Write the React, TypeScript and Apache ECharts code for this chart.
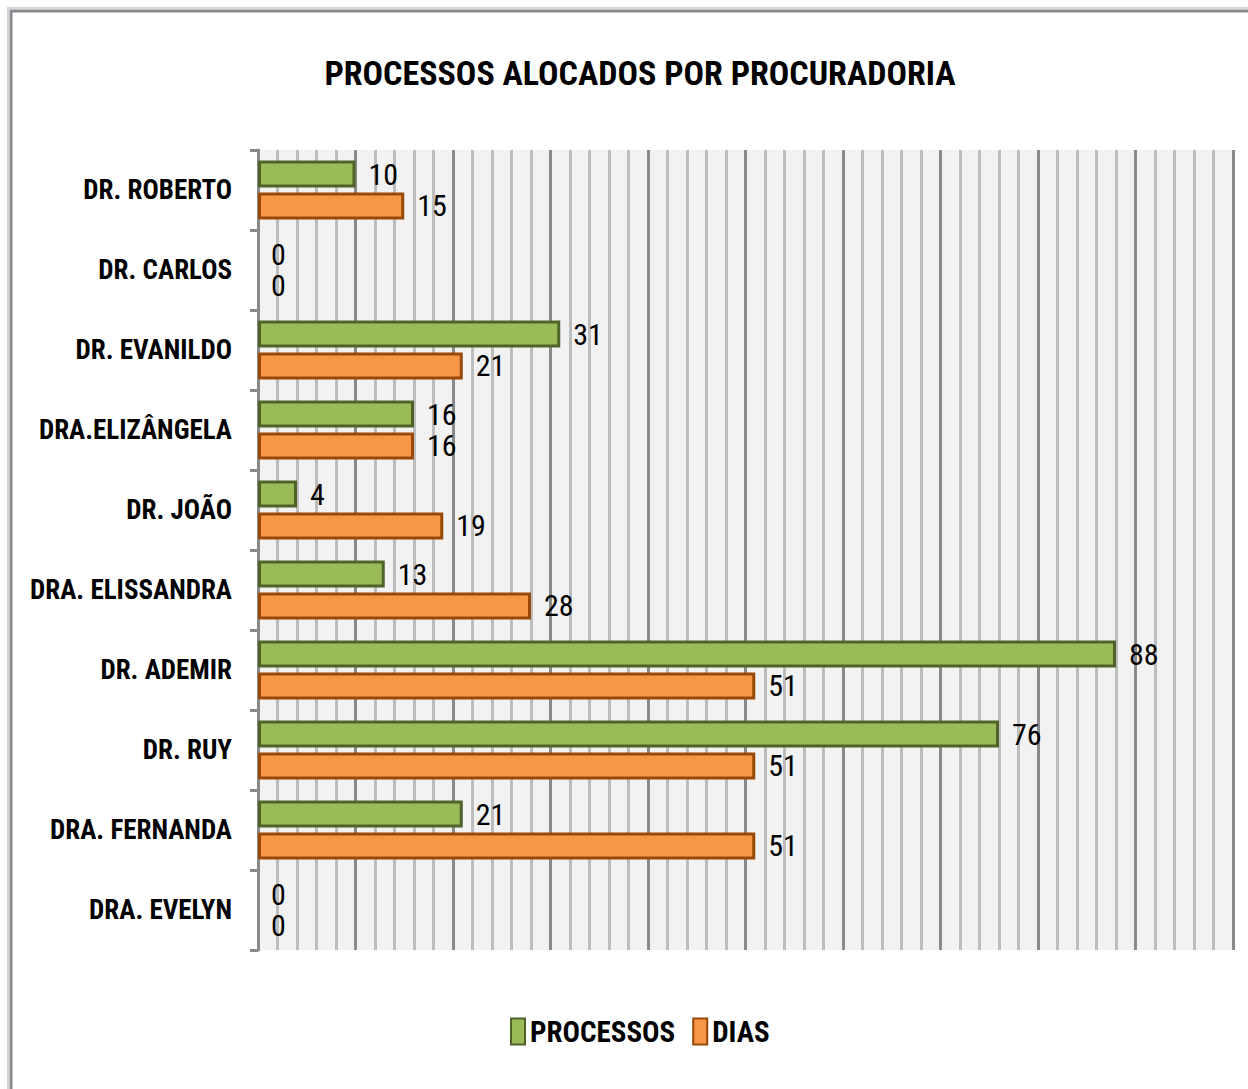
import React, { useEffect, useRef } from "react";
import * as echarts from "echarts";

const categories = [
  "DR. ROBERTO",
  "DR. CARLOS",
  "DR. EVANILDO",
  "DRA.ELIZÂNGELA",
  "DR. JOÃO",
  "DRA. ELISSANDRA",
  "DR. ADEMIR",
  "DR. RUY",
  "DRA. FERNANDA",
  "DRA. EVELYN",
];
const processos = [10, 0, 31, 16, 4, 13, 88, 76, 21, 0];
const dias = [15, 0, 21, 16, 19, 28, 51, 51, 51, 0];

const FONT = '"Roboto Condensed", "Liberation Sans Narrow", Lato, sans-serif';

const toItems = (vals: number[]) =>
  vals.map((v) => (v === 0 ? { value: v, itemStyle: { borderWidth: 0 } } : v));

export default function App() {
  const ref = useRef<HTMLDivElement>(null);
  useEffect(() => {
    if (!ref.current) return;
    const chart = echarts.init(ref.current, undefined, { renderer: "svg" });
    const labelStyle = {
      show: true,
      position: "right",
      distance: 13,
      color: "#000",
      fontSize: 30,
      fontFamily: FONT,
    };
    chart.setOption({
      animation: false,
      backgroundColor: "#ffffff",
      title: {
        text: "PROCESSOS ALOCADOS POR PROCURADORIA",
        left: 635,
        textAlign: "center",
        top: 51,
        textStyle: { fontSize: 34, fontWeight: "bold", color: "#000", fontFamily: FONT },
      },
      legend: {
        data: ["PROCESSOS", "DIAS"],
        top: 1012,
        left: 505,
        icon: "rect",
        itemWidth: 14,
        itemHeight: 26,
        itemGap: 17,
        itemTextGap: 11,
        textStyle: { fontSize: 29, fontWeight: "bold", color: "#000", fontFamily: FONT },
      },
      grid: {
        left: 258,
        right: 15,
        top: 150,
        bottom: 139,
        show: true,
        backgroundColor: "#f2f2f2",
        borderWidth: 0,
        containLabel: false,
        outerBoundsMode: "none",
      },
      xAxis: {
        type: "value",
        min: 0,
        max: 100,
        interval: 2,
        axisLine: { show: false },
        axisTick: { show: false },
        axisLabel: { show: false },
        splitLine: {
          show: true,
          lineStyle: {
            width: 3,
            color: ["#8a8a8a", "#bdbdbd", "#bdbdbd", "#bdbdbd", "#bdbdbd"],
          },
        },
      },
      yAxis: {
        type: "category",
        data: categories,
        inverse: true,
        axisLine: { show: true, lineStyle: { color: "#8a8a8a", width: 3 } },
        axisTick: { show: true, length: 8, lineStyle: { color: "#8a8a8a", width: 3 } },
        axisLabel: {
          margin: 26,
          color: "#000",
          fontSize: 27,
          fontWeight: "bold",
          fontFamily: FONT,
        },
        splitLine: { show: false },
      },
      graphic: [
        {
          type: "rect",
          shape: { x: 11, y: 11, width: 1400, height: 1200 },
          style: { fill: "none", stroke: "#8a8a8a", lineWidth: 3 },
          silent: true,
          z: 100,
        },
        {
          type: "rect",
          shape: { x: 8, y: 8, width: 1400, height: 1200 },
          style: { fill: "none", stroke: "#d0d6e0", lineWidth: 2 },
          silent: true,
          z: 100,
        },
      ],
      series: [
        {
          name: "PROCESSOS",
          type: "bar",
          data: toItems(processos),
          barWidth: 27,
          barGap: "18%",
          itemStyle: { color: "#9bbb59", borderColor: "#4f6228", borderWidth: 3 },
          label: labelStyle,
        },
        {
          name: "DIAS",
          type: "bar",
          data: toItems(dias),
          barWidth: 27,
          barGap: "18%",
          itemStyle: { color: "#f79646", borderColor: "#984807", borderWidth: 3 },
          label: labelStyle,
        },
      ],
    });
    return () => chart.dispose();
  }, []);
  return (
    <div
      ref={ref}
      style={{ position: "absolute", left: 0, top: 0, width: 1248, height: 1089 }}
    />
  );
}
